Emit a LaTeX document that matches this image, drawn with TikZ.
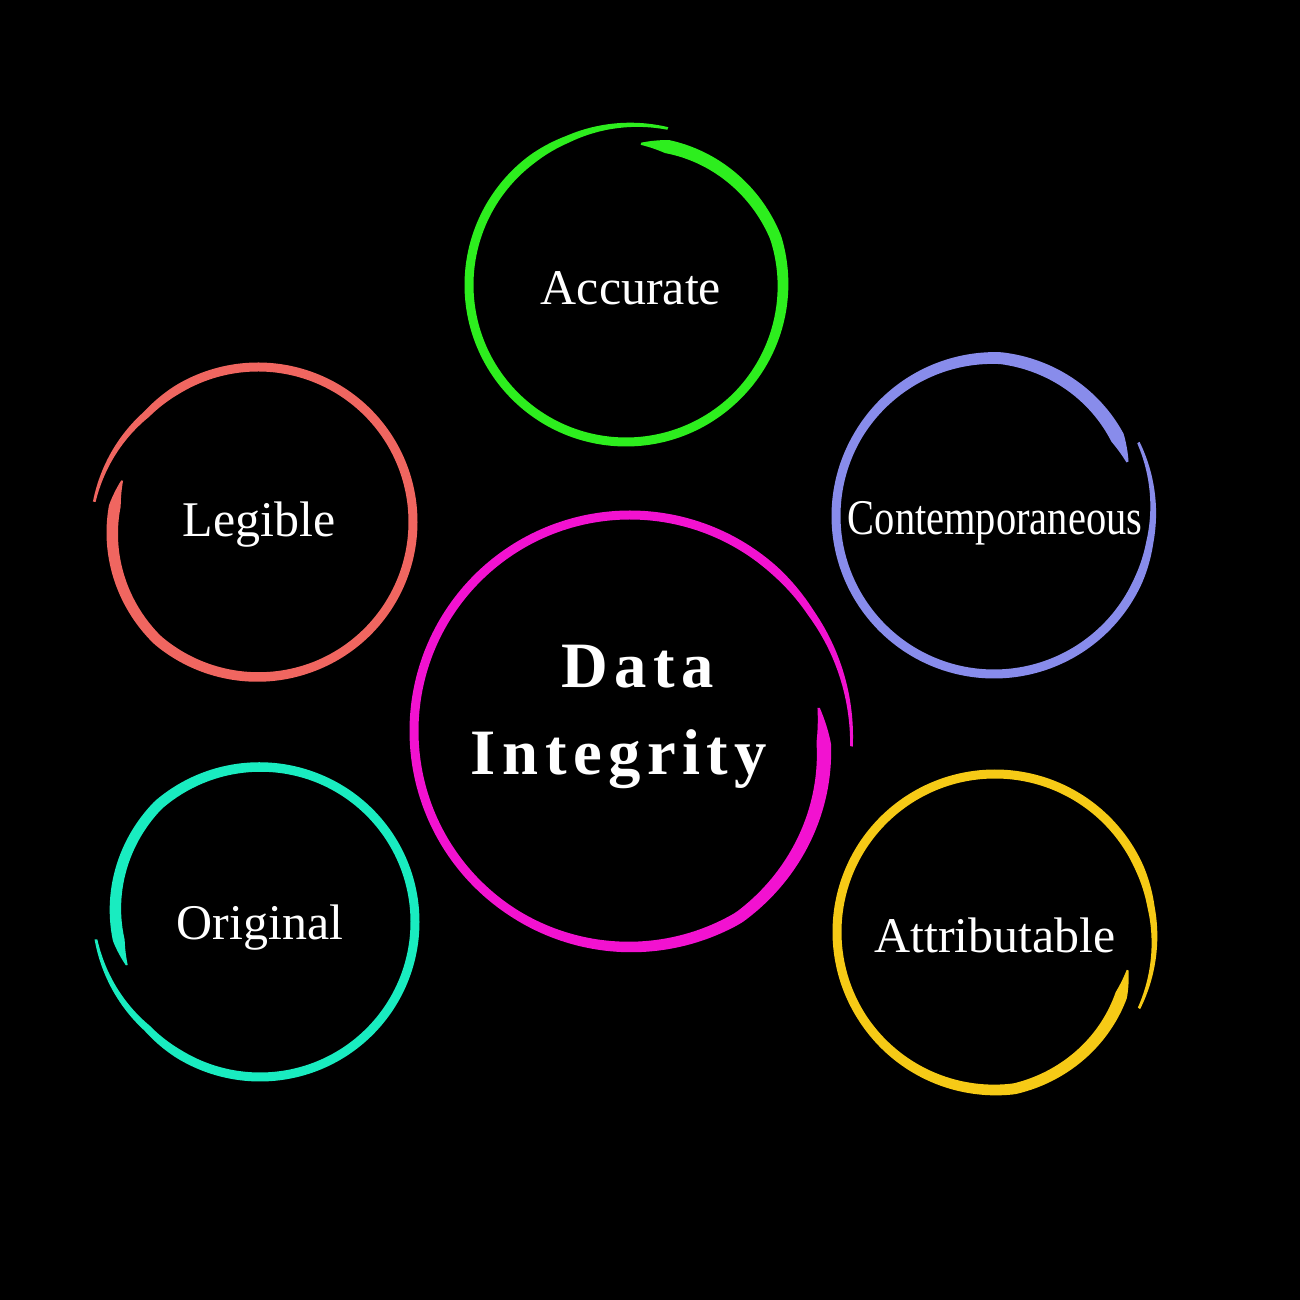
\documentclass[tikz,border=0pt]{standalone}
\usepackage{fontspec}
\usepackage{graphicx}
\setmainfont{Liberation Serif}
\newfontfamily\spacedserif[LetterSpace=10]{Liberation Serif}
\definecolor{cgreen}{RGB}{45,238,30}
\definecolor{csalmon}{RGB}{240,102,96}
\definecolor{cteal}{RGB}{25,236,192}
\definecolor{cperi}{RGB}{136,140,235}
\definecolor{cyellow}{RGB}{246,202,22}
\definecolor{cmagenta}{RGB}{242,18,208}
% brush ring: colour, cx, cy (image px, y down), R, start angle, end angle, start bump, end drop, max width
\newcommand\brushring[9]{%
  \def\bcx{#2}\def\bcy{#3}\def\bR{#4}\def\ba{#5}\def\bb{#6}\def\bds{#7}\def\bde{#8}\def\bwm{#9}%
  \fill[#1]
    plot[domain=0:1,samples=280,variable=\t]
      ({\bcx+(br(\t)+bw(\t)/2)*cos(bt(\t))},{1300-\bcy+(br(\t)+bw(\t)/2)*sin(bt(\t))})
    -- plot[domain=1:0,samples=280,variable=\t]
      ({\bcx+(br(\t)-bw(\t)/2)*cos(bt(\t))},{1300-\bcy+(br(\t)-bw(\t)/2)*sin(bt(\t))})
    -- cycle;
}
\begin{document}
\begin{tikzpicture}[x=0.01cm,y=0.01cm,
  declare function={
    bt(\s)=(\ba)+\s*((\bb)-(\ba));
    br(\s)=\bR+\bds*max(0,1-\s/0.1)-\bde*max(0,(\s-0.82)/0.18);
    bw(\s)=(9*min(1,0.3+\s/0.14*0.7)+(\bwm-9)*max(0,(\s-0.65)/0.35))*min(1,(1-\s)*30+0.15);
  },
  lbl/.style={text=white,font=\fontsize{14.2}{17}\selectfont,inner sep=0pt,anchor=base},
  ditext/.style={text=white,font=\spacedserif\bfseries\fontsize{18.4}{22}\selectfont,inner sep=0pt,anchor=base}]
\fill[black] (0,0) rectangle (1300,1300);
\useasboundingbox (0,0) rectangle (1300,1300);

\brushring{cgreen}{626}{285}{157}{75}{444}{5}{15}{14}
\brushring{csalmon}{258}{522}{155}{173}{-197}{10}{13}{12}
\brushring{cteal}{260}{922}{155}{186}{558}{10}{15}{12}
\brushring{cperi}{994}{516}{158}{27}{-338}{4}{14}{15}
\brushring{cyellow}{995}{932}{158}{-28}{344}{5}{20}{13}
\brushring{cmagenta}{630}{731}{216}{-4}{367}{6}{26}{15}

\node[lbl] (acc) at (631,995) {Accurate};
\node[lbl] (leg) at (259,763) {Legible};
\node[lbl] (con) at (995,765) {\scalebox{0.81}[1]{Contemporaneous}};
\node[lbl] (ori) at (260,360) {Original};
\node[lbl] (att) at (995,347) {Attributable};
\node[ditext] (data) at (638,612) {Data};
\node[ditext] (integ) at (619,525) {Integrity};
\end{tikzpicture}
\end{document}
